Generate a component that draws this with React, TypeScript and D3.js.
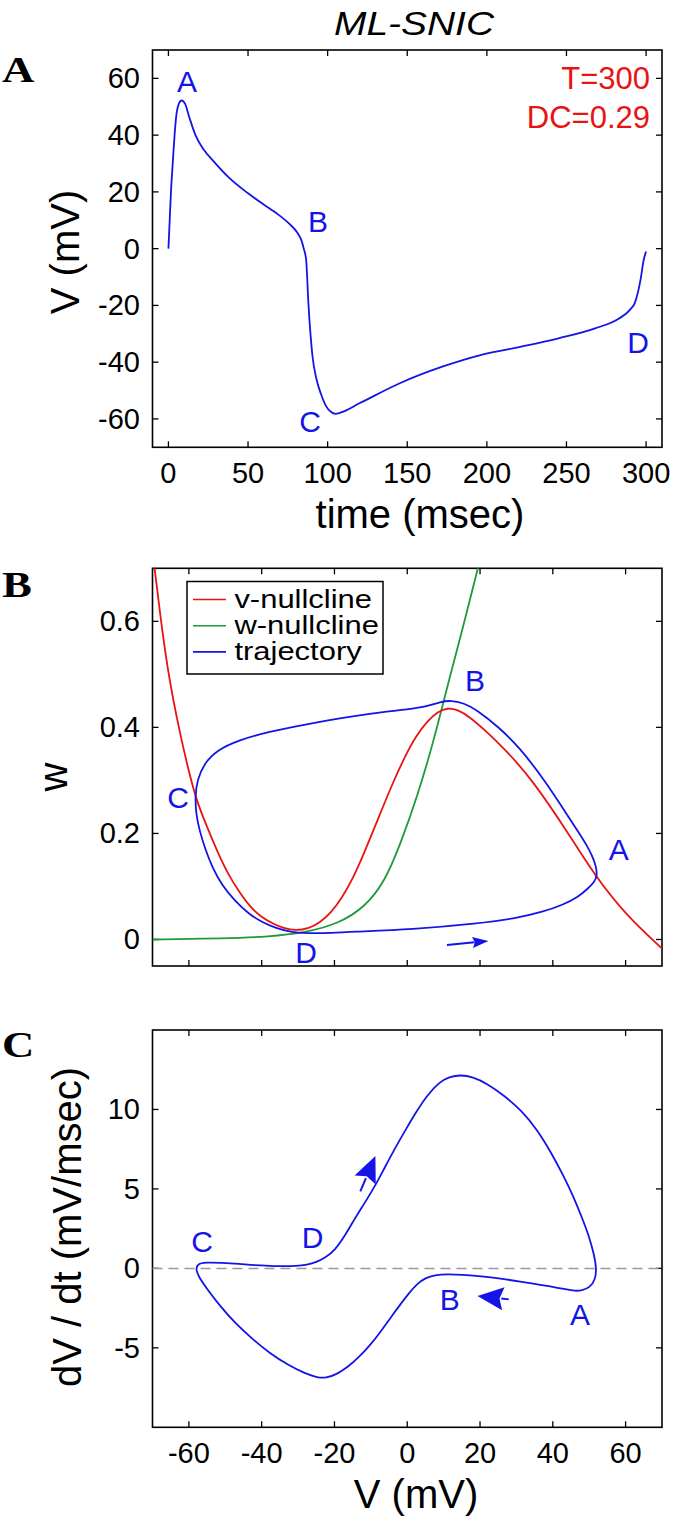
import React from 'react';
import * as d3 from 'd3';

// ---------- data ----------
const timeTicks = [0, 50, 100, 150, 200, 250, 300];
const vTicksA = [-60, -40, -20, 0, 20, 40, 60];
const vTicksBC = [-60, -40, -20, 0, 20, 40, 60];
const wTicks = [0, 0.2, 0.4, 0.6];
const dvTicks = [-5, 0, 5, 10];

// Panel A: V(t), [t (msec), V (mV)]
const voltageTrace: [number, number][] = [
  [0, 0], [0.8, 10], [1.6, 20], [2.7, 30], [3.8, 39.5], [4.8, 46.2], [6.2, 50.5], [8.3, 52.2],
  [10.5, 51], [13, 46.5], [17, 40], [22, 35], [28, 31], [38, 25], [50, 19.5], [60, 15.5],
  [69, 12], [76, 8.7], [81, 5.6], [83.5, 3], [85, 0], [86.5, -4], [88, -20], [90.5, -38],
  [93, -46], [96, -51.5], [99, -55.5], [102, -57.5], [105, -58.2], [108, -57.8], [120, -54.5],
  [145, -47.5], [172, -41.6], [196, -37.5], [221, -34.6], [245, -31.6], [268, -28.1],
  [283, -24.6], [290, -21.5], [293, -19], [296.5, -11], [298.5, -4], [300, -1],
];

// Panel B: [V (mV), w]
const vNullcline: [number, number][] = [
  [-69.6, 0.71], [-67.5, 0.59], [-65.4, 0.49], [-62.8, 0.40], [-60.5, 0.33], [-58, 0.263],
  [-55, 0.212], [-52, 0.163], [-49, 0.12], [-46, 0.088], [-43, 0.06], [-40, 0.042], [-37, 0.03],
  [-34, 0.021], [-30.6, 0.0165], [-27, 0.021], [-24, 0.032], [-21, 0.05], [-18, 0.078],
  [-15, 0.114], [-12, 0.16], [-8, 0.228], [-4, 0.295], [-0.8, 0.343], [2.5, 0.385], [5.7, 0.413],
  [8.5, 0.43], [11.1, 0.437], [14, 0.433], [17.1, 0.42], [21, 0.397], [27, 0.358], [34.5, 0.30],
  [44.3, 0.20], [51.6, 0.12], [60, 0.047], [70, -0.017],
];
const wNullcline: [number, number][] = [
  [-70, 0.0], [-50, 0.002], [-38, 0.005], [-28.2, 0.0125], [-18.7, 0.03], [-11.5, 0.062],
  [-6.2, 0.109], [-2, 0.178], [2.8, 0.27], [7.5, 0.38], [11.1, 0.48], [14.7, 0.572],
  [19.4, 0.70], [20.5, 0.73],
];
const trajectory: [number, number][] = [
  [-28.2, 0.0115], [-20, 0.0125], [-16.3, 0.0144], [1.6, 0.019], [19.4, 0.030], [30, 0.040],
  [37.3, 0.052], [43, 0.066], [46.9, 0.080], [49.5, 0.095], [51.4, 0.108], [52.2, 0.12],
  [51.9, 0.138], [50.8, 0.158], [49.3, 0.178], [47.3, 0.2], [42.5, 0.25], [37.8, 0.3],
  [30.6, 0.364], [25.2, 0.40], [19.3, 0.432], [15.5, 0.446], [12, 0.451], [9, 0.448], [6, 0.441],
  [3, 0.437], [0, 0.434], [-4.4, 0.431], [-16.3, 0.42], [-28.4, 0.405], [-38, 0.392],
  [-46.3, 0.376], [-52.3, 0.357], [-55.8, 0.332], [-57.7, 0.301], [-58.3, 0.27], [-58, 0.235],
  [-57.1, 0.206], [-55.5, 0.17], [-53.5, 0.135], [-51, 0.103], [-47.3, 0.072], [-43.5, 0.048],
  [-40, 0.033], [-36, 0.021], [-32, 0.014],
];

// Panel C: [V (mV), dV/dt (mV/msec)]
const phaseLoop: [number, number][] = [
  [-20, 1.1], [-17, 2.1], [-14.5, 3.1], [-12.3, 3.9], [-9.3, 5.0], [-6.5, 6.2], [-4, 7.3],
  [-0.5, 8.7], [2.6, 9.9], [5.5, 10.9], [8.7, 11.7], [11.5, 12.05], [14.7, 12.18], [18, 12.05],
  [21.8, 11.65], [26.5, 10.9], [31.4, 9.94], [35.8, 8.7], [39.7, 7.22], [43, 5.8], [45.7, 4.5],
  [48, 3.2], [50, 1.99], [51.3, 0.9], [52, 0], [51.7, -0.7], [50.2, -1.2], [48, -1.4],
  [46, -1.42], [44, -1.34], [38, -1.08], [31.4, -0.84], [25, -0.62], [19.4, -0.48], [15, -0.4],
  [11.1, -0.36], [7.5, -0.42], [5, -0.6], [2.8, -0.95], [0.5, -1.55], [-2, -2.3], [-4.4, -3.04],
  [-7.5, -4.05], [-10.3, -4.85], [-13.3, -5.6], [-16.3, -6.2], [-19.3, -6.65], [-22.3, -6.92],
  [-25, -6.85], [-28.2, -6.6], [-32.5, -6.12], [-37.8, -5.34], [-42.5, -4.45], [-47.3, -3.45],
  [-51.5, -2.35], [-55, -1.3], [-57.4, -0.5], [-58.1, -0.05], [-57.6, 0.28], [-55.5, 0.38],
  [-51, 0.35], [-46.1, 0.28], [-42, 0.2], [-37.8, 0.16], [-34, 0.13], [-30.6, 0.15],
  [-27.5, 0.23], [-25, 0.38], [-22.5, 0.68],
];

// point labels [x, y, text] in data units
const labelsA: [number, number, string][] = [[11.7, 55.3, 'A'], [94, 6, 'B'], [89, -64.5, 'C'], [295, -36.8, 'D']];
const labelsB: [number, number, string][] = [[18.6, 0.469, 'B'], [58.1, 0.15, 'A'], [-63, 0.248, 'C'], [-27.8, -0.044, 'D']];
const labelsC: [number, number, string][] = [[-56.4, 1.03, 'C'], [-26, 1.28, 'D'], [11.7, -2.62, 'B'], [47.5, -3.56, 'A']];

// direction arrows [x1, y1, x2, y2] in data units (tail -> tip)
const arrowB: [number, number, number, number] = [10.9, -0.0104, 22.3, -0.0029];
const arrowsC: [number, number, number, number][] = [[-12.9, 4.85, -8.75, 7.07], [27.9, -1.95, 19.3, -1.74]];

const legendItems = ['v-nullcline', 'w-nullcline', 'trajectory'];
const infoLines = ['T=300', 'DC=0.29'];

// ---------- style ----------
const SANS = "'Liberation Sans', Arial, Helvetica, sans-serif";
const SERIF = "'Liberation Serif', 'Times New Roman', serif";
const BLUE = '#1414e8';
const RED = '#e81414';
const GREEN = '#1e9a3c';
const LEFT = 152.5, RIGHT = 662;

const xA = d3.scaleLinear([-10, 310], [LEFT, RIGHT]);
const yA = d3.scaleLinear([-70, 70], [447.3, 50]);
const xV = d3.scaleLinear([-70, 70], [LEFT, RIGHT]);
const yW = d3.scaleLinear([-0.05, 0.7], [966, 568.3]);
const yD = d3.scaleLinear([-10, 15], [1427.3, 1030]);

type Sc = d3.ScaleLinear<number, number>;

function Frame({ x, y, xTicks, yTicks, showX, yFmt }: { x: Sc; y: Sc; xTicks: number[]; yTicks: number[]; showX: boolean; yFmt: (v: number) => string }) {
  const [x0, x1] = x.range();
  const [y0, y1] = y.range(); // y0 bottom, y1 top
  const tl = 6;
  return (
    <g>
      {xTicks.map((t) => (
        <g key={'x' + t}>
          <line x1={x(t)} x2={x(t)} y1={y0} y2={y0 - tl} stroke="#000" strokeWidth={1.3} />
          <line x1={x(t)} x2={x(t)} y1={y1} y2={y1 + tl} stroke="#000" strokeWidth={1.3} />
          {showX && (
            <text x={x(t)} y={y0 + 36} textAnchor="middle" fontFamily={SANS} fontSize={29}>{String(t)}</text>
          )}
        </g>
      ))}
      {yTicks.map((t) => (
        <g key={'y' + t}>
          <line x1={x0} x2={x0 + tl} y1={y(t)} y2={y(t)} stroke="#000" strokeWidth={1.3} />
          <line x1={x1} x2={x1 - tl} y1={y(t)} y2={y(t)} stroke="#000" strokeWidth={1.3} />
          <text x={140} y={y(t) + 10} textAnchor="end" fontFamily={SANS} fontSize={29}>{yFmt(t)}</text>
        </g>
      ))}
      <rect x={x0} y={y1} width={x1 - x0} height={y0 - y1} fill="none" stroke="#000" strokeWidth={1.6} />
    </g>
  );
}

function Arrow({ a, x, y, len, hw, sw }: { a: [number, number, number, number]; x: Sc; y: Sc; len: number; hw: number; sw: number }) {
  const px1 = x(a[0]), py1 = y(a[1]), px2 = x(a[2]), py2 = y(a[3]);
  const dx = px2 - px1, dy = py2 - py1;
  const L = Math.hypot(dx, dy);
  const ux = dx / L, uy = dy / L;
  const bx = px2 - ux * len, by = py2 - uy * len;
  const nx = -uy, ny = ux;
  const pts = `${px2},${py2} ${bx + nx * hw},${by + ny * hw} ${bx + ux * len * 0.15},${by + uy * len * 0.15} ${bx - nx * hw},${by - ny * hw}`;
  return (
    <g>
      <line x1={px1} y1={py1} x2={bx + ux * 2} y2={by + uy * 2} stroke={BLUE} strokeWidth={sw} />
      <polygon points={pts} fill={BLUE} />
    </g>
  );
}

function PointLabels({ items, x, y }: { items: [number, number, string][]; x: Sc; y: Sc }) {
  return (
    <g>
      {items.map(([a, b, s]) => (
        <text key={s} x={x(a)} y={y(b)} textAnchor="middle" fontFamily={SANS} fontSize={30} fill={BLUE}>{s}</text>
      ))}
    </g>
  );
}

function PanelLetter({ s, y }: { s: string; y: number }) {
  return (
    <text transform={`translate(2,${y}) scale(1.28,1)`} fontFamily={SERIF} fontWeight="bold" fontSize={35}>{s}</text>
  );
}

export default function App() {
  const lineA = d3.line<[number, number]>().x((d) => xA(d[0])).y((d) => yA(d[1])).curve(d3.curveMonotoneX);
  const lineB = d3.line<[number, number]>().x((d) => xV(d[0])).y((d) => yW(d[1])).curve(d3.curveBasis);
  const loopB = d3.line<[number, number]>().x((d) => xV(d[0])).y((d) => yW(d[1])).curve(d3.curveBasisClosed);
  const loopC = d3.line<[number, number]>().x((d) => xV(d[0])).y((d) => yD(d[1])).curve(d3.curveBasisClosed);

  const legX = 187, legY = 581.5, legW = 196, legH = 92.5;
  const legColors = [RED, GREEN, BLUE];

  return (
    <svg width={681} height={1521} viewBox="0 0 681 1521" style={{ position: 'absolute', left: 0, top: 0, background: '#fff' }}>
      <defs>
        <clipPath id="clipA"><rect x={LEFT} y={50} width={RIGHT - LEFT} height={397.3} /></clipPath>
        <clipPath id="clipB"><rect x={LEFT} y={568.3} width={RIGHT - LEFT} height={966 - 568.3} /></clipPath>
        <clipPath id="clipC"><rect x={LEFT} y={1030} width={RIGHT - LEFT} height={397.3} /></clipPath>
      </defs>
      <rect x={0} y={0} width={681} height={1521} fill="#fff" />

      {/* Title */}
      <text transform="translate(414,35) scale(1.18,1)" textAnchor="middle" fontFamily={SANS} fontStyle="italic" fontSize={33}>ML-SNIC</text>

      {/* ---------- Panel A ---------- */}
      <PanelLetter s="A" y={82} />
      <Frame x={xA} y={yA} xTicks={timeTicks} yTicks={vTicksA} showX={true} yFmt={(v) => String(v)} />
      <g clipPath="url(#clipA)">
        <path d={lineA(voltageTrace) || ''} fill="none" stroke={BLUE} strokeWidth={1.8} />
      </g>
      <PointLabels items={labelsA} x={xA} y={yA} />
      {infoLines.map((s, i) => (
        <text key={s} x={650} y={89 + i * 39} textAnchor="end" fontFamily={SANS} fontSize={31} fill={RED}>{s}</text>
      ))}
      <text x={420} y={528} textAnchor="middle" fontFamily={SANS} fontSize={40}>time (msec)</text>
      <text transform="translate(78.5,252) rotate(-90)" textAnchor="middle" fontFamily={SANS} fontSize={40}>V (mV)</text>

      {/* ---------- Panel B ---------- */}
      <PanelLetter s="B" y={597} />
      <Frame x={xV} y={yW} xTicks={vTicksBC} yTicks={wTicks} showX={false} yFmt={(v) => (v === 0 ? '0' : v.toFixed(1))} />
      <g clipPath="url(#clipB)">
        <path d={lineB(wNullcline) || ''} fill="none" stroke={GREEN} strokeWidth={1.8} />
        <path d={lineB(vNullcline) || ''} fill="none" stroke={RED} strokeWidth={1.8} />
        <path d={loopB(trajectory) || ''} fill="none" stroke={BLUE} strokeWidth={1.8} />
      </g>
      <Arrow a={arrowB} x={xV} y={yW} len={16} hw={5.5} sw={2} />
      <PointLabels items={labelsB} x={xV} y={yW} />
      <text transform="translate(67,777) rotate(-90)" textAnchor="middle" fontFamily={SANS} fontSize={40}>w</text>
      {/* legend */}
      <rect x={legX} y={legY} width={legW} height={legH} fill="#fff" stroke="#000" strokeWidth={1.5} />
      {legendItems.map((s, i) => {
        const ly = 599.5 + i * 26.2;
        return (
          <g key={s}>
            <line x1={193} x2={226} y1={ly} y2={ly} stroke={legColors[i]} strokeWidth={1.6} />
            <text transform={`translate(234.4,${ly + 8}) scale(1.2,1)`} fontFamily={SANS} fontSize={25.8}>{s}</text>
          </g>
        );
      })}

      {/* ---------- Panel C ---------- */}
      <PanelLetter s="C" y={1057} />
      <Frame x={xV} y={yD} xTicks={vTicksBC} yTicks={dvTicks} showX={true} yFmt={(v) => String(v)} />
      <line x1={LEFT} x2={RIGHT} y1={yD(0)} y2={yD(0)} stroke="#999" strokeWidth={1.5} strokeDasharray="10,6" />
      <g clipPath="url(#clipC)">
        <path d={loopC(phaseLoop) || ''} fill="none" stroke={BLUE} strokeWidth={1.8} />
      </g>
      {arrowsC.map((a, i) => (
        <Arrow key={i} a={a} x={xV} y={yD} len={26} hw={11.5} sw={2} />
      ))}
      <PointLabels items={labelsC} x={xV} y={yD} />
      <text x={416} y={1508} textAnchor="middle" fontFamily={SANS} fontSize={40}>V (mV)</text>
      <text transform="translate(80.5,1227) rotate(-90)" textAnchor="middle" fontFamily={SANS} fontSize={40}>dV / dt (mV/msec)</text>
    </svg>
  );
}
